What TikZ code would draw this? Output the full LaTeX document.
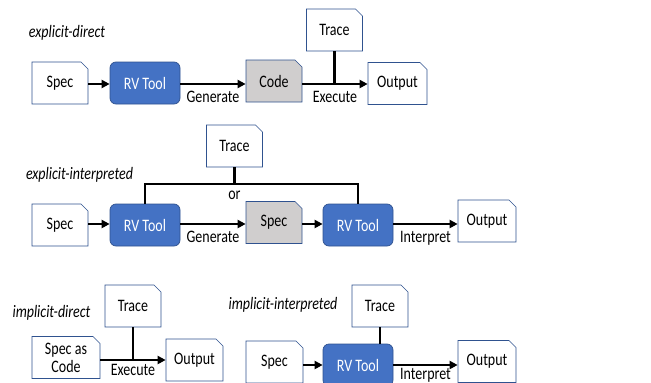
\documentclass[tikz,border=0pt]{standalone}
\usepackage{fontspec}
\setmainfont[FakeStretch=0.8]{Carlito}
\usepackage{tikz}
\usetikzlibrary{
    arrows.meta,
    shapes.misc,
    calc,
    positioning
}
\definecolor{rvblue}{HTML}{4472C4}
\definecolor{rvedge}{HTML}{2F528F}
\definecolor{gengray}{HTML}{D0CECE}

\begin{document}
\begin{tikzpicture}[x=1pt, y=-1pt,
    doc/.style={chamfered rectangle, chamfered rectangle corners=north east,
        chamfered rectangle xsep=3.5pt, chamfered rectangle ysep=3.5pt,
        draw=rvedge, line width=0.7pt, fill=white, inner sep=0pt,
        minimum width=56pt, minimum height=42pt, align=center,
        font=\fontsize{17.5}{18}\selectfont},
    gen/.style={doc, fill=gengray},
    tool/.style={rectangle, rounded corners=6pt, draw=rvedge, line width=0.7pt,
        fill=rvblue, text=white, minimum width=70pt, minimum height=42pt,
        font=\fontsize{17.5}{18}\selectfont},
    flow/.style={line width=2.5pt, -{Triangle[length=8pt, width=8pt]}},
    link/.style={line width=2.5pt},
    act/.style={below=2.5pt, font=\fontsize{17.5}{18}\selectfont},
    mode/.style={font=\fontsize{17.5}{18}\selectfont\itshape}]
                        \useasboundingbox (0, 0) rectangle (651, 383);
                        \node[mode] (ed) at (67, 33) {explicit-direct};
                        \node[doc] (spec1) at (60, 83) {Spec};
                        \node[tool] (rv1) at (145, 83) {RV Tool};
                        \node[gen] (code1) at (274, 81) {Code};
                        \node[doc] (trace1) at (334.5, 30) {Trace};
                        \node[doc, minimum width=59pt] (out1) at (397.5, 83.5) {Output};
                        \draw[flow] (spec1.east |- 0, 84) -- (rv1.west |- 0, 84);
                        \draw[flow] (rv1.east |- 0, 84) -- (code1.west |- 0, 84) node[act, midway] {Generate};
                        \draw[flow] (code1.east |- 0, 84) -- (out1.west |- 0, 84) node[act, midway] {Execute};
                        \draw[link] (trace1.south) -- (trace1.south |- 0, 84);

                        \node[mode] (ei) at (79.5, 175) {explicit-interpreted};
                        \node[doc] (trace2) at (234.5, 146) {Trace};
                        \node[doc] (spec2) at (60, 225) {Spec};
                        \node[tool] (rv2a) at (145, 225) {RV Tool};
                        \node[gen] (spec2b) at (274, 222.5) {Spec};
                        \node[tool] (rv2b) at (358, 225) {RV Tool};
                        \node[doc, minimum width=58pt] (out2) at (487, 221) {Output};
                        \coordinate (fork) at (234.5, 184);
                        \draw[link] (trace2.south) -- (fork);
                        \draw[link] (rv2a.north) |- (fork) -| (rv2b.north);
                        \node[font=\fontsize{17.5}{18}\selectfont] (or) at (234.5, 195) {or};
                        \draw[flow] (spec2.east |- 0, 224) -- (rv2a.west |- 0, 224);
                        \draw[flow] (rv2a.east |- 0, 224) -- (spec2b.west |- 0, 224) node[act, midway] {Generate};
                        \draw[flow] (spec2b.east |- 0, 224) -- (rv2b.west |- 0, 224);
                        \draw[flow] (rv2b.east |- 0, 224) -- (out2.west |- 0, 224) node[act, midway] {Interpret};

                        \node[mode] (id) at (51.5, 313) {implicit-direct};
                        \node[doc] (trace3) at (133, 306) {Trace};
                        \node[doc, minimum width=68pt] (spec3) at (66, 357.5) {Spec as\\Code};
                        \node[doc, minimum width=57pt] (out3) at (194.5, 360) {Output};
                        \draw[flow] (spec3.east |- 0, 360) -- (out3.west |- 0, 360) node[act, below=0pt, midway] {Execute};
                        \draw[link] (trace3.south) -- (trace3.south |- 0, 360);

                        \node[mode] (ii) at (283, 305) {implicit-interpreted};
                        \node[doc] (trace4) at (380, 306) {Trace};
                        \node[doc, minimum width=57pt] (spec4) at (274.5, 362) {Spec};
                        \node[tool] (rv4) at (358, 365) {RV Tool};
                        \node[doc, minimum width=58pt] (out4) at (487, 361.5) {Output};
                        \draw[flow] (spec4.east |- 0, 365) -- (rv4.west |- 0, 365);
                        \draw[flow] (rv4.east |- 0, 365) -- (out4.west |- 0, 365) node[act, below=-1pt, midway] {Interpret};
                        \draw[link] (trace4.south) -- (rv4.north -| trace4.south);
\end{tikzpicture}
\end{document}
